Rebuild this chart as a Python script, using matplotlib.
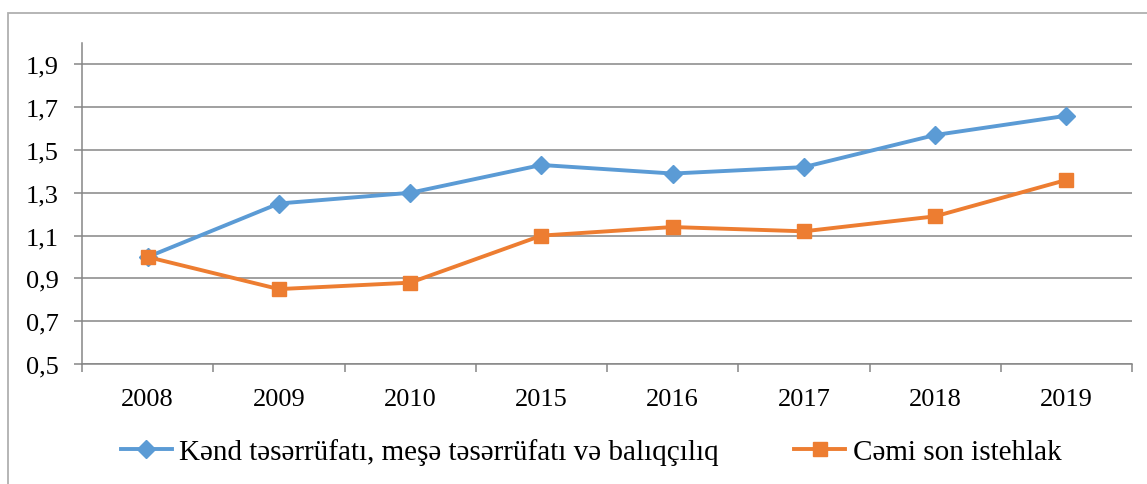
import matplotlib
matplotlib.use("Agg")
import matplotlib.pyplot as plt
from matplotlib.patches import Rectangle
import numpy as np

years = ["2008", "2009", "2010", "2015", "2016", "2017", "2018", "2019"]
kend = [1.00, 1.25, 1.30, 1.43, 1.39, 1.42, 1.57, 1.66]
cemi = [1.00, 0.85, 0.88, 1.10, 1.14, 1.12, 1.19, 1.36]
yticks = [0.5, 0.7, 0.9, 1.1, 1.3, 1.5, 1.7, 1.9]
ytick_labels = ["0,5", "0,7", "0,9", "1,1", "1,3", "1,5", "1,7", "1,9"]
label_kend = "Kənd təsərrüfatı, meşə təsərrüfatı və balıqçılıq"
label_cemi = "Cəmi son istehlak"

plt.rcParams['font.family'] = ['Liberation Serif', 'DejaVu Serif']

fig = plt.figure(figsize=(11.47, 4.85), dpi=100)
ax = fig.add_axes([82/1147, 1-365/485, (1132-82)/1147, (365-44)/485])

# outer border
fig.patches.append(Rectangle((8/1147, -0.1), 1.2, 1-14/485+0.1, transform=fig.transFigure,
                             fill=False, edgecolor="#B0B0B0", linewidth=1.3))

x = np.arange(len(years))
ax.plot(x, kend, color="#5B9BD5", linewidth=2.8, marker="D", markersize=9,
        label=label_kend, zorder=3)
ax.plot(x, cemi, color="#ED7D31", linewidth=2.8, marker="s", markersize=10,
        label=label_cemi, zorder=3)

ax.set_xlim(-0.5, len(years) - 0.5)
ax.set_ylim(0.5, 2.0)
ax.set_yticks(yticks)
ax.set_yticklabels(ytick_labels)
ax.yaxis.grid(True, color="#868686", linewidth=1.1)
ax.set_axisbelow(True)

ax.set_xticks(x)
ax.set_xticklabels(years)
ax.set_xticks(np.arange(-0.5, len(years)), minor=True)
ax.tick_params(axis="x", which="major", length=0, pad=17, labelsize=19)
ax.tick_params(axis="x", which="minor", length=6, width=1.1, color="#868686", direction="out")
ax.tick_params(axis="y", length=6, width=1.1, color="#868686", pad=11, labelsize=19)

for s in ["top", "right"]:
    ax.spines[s].set_visible(False)
ax.spines["left"].set_color("#868686")
ax.spines["left"].set_linewidth(1.1)
ax.spines["bottom"].set_color("#868686")
ax.spines["bottom"].set_linewidth(1.1)

leg = fig.legend(loc="center", bbox_to_anchor=(591/1147, 1-453/485), ncol=2, frameon=False,
                 fontsize=21, handlelength=1.75, handletextpad=0.25, columnspacing=2.6)

fig.savefig("out.png", dpi=100)
